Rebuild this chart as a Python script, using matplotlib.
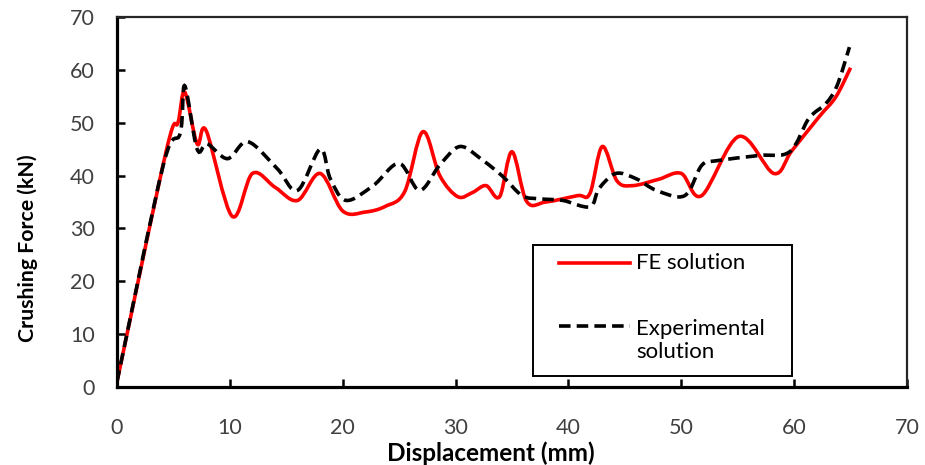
import numpy as np
import matplotlib
matplotlib.use("Agg")
import matplotlib.pyplot as plt
from matplotlib.path import Path
from matplotlib.patches import PathPatch, Rectangle
from matplotlib.lines import Line2D

plt.rcParams['font.family'] = ['Lato', 'DejaVu Sans']

# ---- data ----
fe_x = [0, 4.4, 5.4, 6.0, 7.1, 7.9, 10.2, 12.0, 14.0, 16.0, 18.0, 20.0, 22.0, 23.8,
        25.5, 27.1, 28.6, 30.2, 31.5, 32.7, 33.9, 35.0, 36.3, 38.0, 40.8, 41.9,
        43.0, 44.3, 45.7, 48.0, 50.0, 51.8, 55.1, 58.2, 59.8, 62.2, 63.7, 65.0]
fe_y = [1, 45, 50, 55.8, 46, 48.5, 32.3, 40.4, 37.8, 35.3, 40.4, 33.3, 33.1, 34.2,
        37.0, 48.3, 40.0, 36.0, 36.8, 38.1, 36.0, 44.5, 35.1, 35.0, 36.2, 36.6,
        45.5, 39.0, 38.1, 39.3, 40.4, 36.2, 47.4, 40.4, 44.7, 51.1, 54.9, 60.4]

ex_x = [0, 4.1, 5.6, 6.0, 7.1, 8.0, 9.8, 11.6, 14.2, 16.0, 18.0, 18.9, 20.3, 22.7,
        25.0, 26.8, 28.6, 30.4, 32.4, 34.2, 35.9, 37.5, 39.5, 41.9, 42.7, 44.2,
        46.0, 47.8, 50.3, 51.8, 53.1, 56.9, 59.6, 61.3, 62.8, 63.8, 64.9]
ex_y = [1, 42, 48, 57, 45, 46, 43.2, 46.4, 41.3, 37.2, 45, 39.4, 35.3, 38.1,
        42.3, 37.2, 42.0, 45.5, 42.9, 39.8, 36.2, 35.6, 35.3, 34.1, 37.5, 40.4,
        39.4, 37.2, 36.2, 41.9, 42.8, 43.8, 44.5, 50.8, 53.6, 57.0, 64.3]

x_ticks = [0, 10, 20, 30, 40, 50, 60, 70]
y_ticks = [0, 10, 20, 30, 40, 50, 60, 70]
labels = ["FE solution", "Experimental\nsolution"]


def smooth_path(xs, ys):
    """Excel-like smoothed line: cubic Bezier segments through the points."""
    P = np.column_stack([xs, ys]).astype(float)
    n = len(P)
    verts = [P[0]]
    codes = [Path.MOVETO]
    for i in range(n - 1):
        p0 = P[i - 1] if i > 0 else P[i]
        p1 = P[i]
        p2 = P[i + 1]
        p3 = P[i + 2] if i + 2 < n else P[i + 1]
        c1 = p1 + (p2 - p0) / 6.0
        c2 = p2 - (p3 - p1) / 6.0
        verts += [c1, c2, p2]
        codes += [Path.CURVE4] * 3
    return Path(verts, codes)


fig = plt.figure(figsize=(9.25, 4.65), dpi=100)
ax = fig.add_axes([117 / 925, 1 - 387 / 465, 790 / 925, 370 / 465])

red = "#ff0000"
lw = 2.6
fe_patch = PathPatch(smooth_path(fe_x, fe_y), facecolor="none", edgecolor=red,
                     lw=lw, transform=ax.transData, capstyle="butt", joinstyle="round")
ax.add_patch(fe_patch)
ex_patch = PathPatch(smooth_path(ex_x, ex_y), facecolor="none", edgecolor="black",
                     lw=lw, linestyle=(0, (3.2, 1.7)), transform=ax.transData,
                     capstyle="butt")
ax.add_patch(ex_patch)

ax.set_xlim(0, 70)
ax.set_ylim(0, 70)
ax.set_xticks(x_ticks)
ax.set_yticks(y_ticks)

tick_color = "#404040"
ax.tick_params(axis="both", direction="in", length=6, width=1.8,
               labelsize=15.5, labelcolor=tick_color, color="black")
ax.tick_params(axis="y", pad=16)
ax.tick_params(axis="x", pad=22)

for s in ["left", "bottom"]:
    ax.spines[s].set_linewidth(2.3)
    ax.spines[s].set_color("black")
for s in ["top", "right"]:
    ax.spines[s].set_linewidth(1.6)
    ax.spines[s].set_color("#262626")

ax.set_xlabel("Displacement (mm)", fontsize=17.5, fontweight="bold")
ax.set_ylabel("Crushing Force (kN)", fontsize=15.3, fontweight="bold")
ax.xaxis.set_label_coords(0.473, -0.178)
ax.xaxis.label.set_verticalalignment("center")
ax.yaxis.set_label_coords(-0.113, 0.375)
ax.yaxis.label.set_verticalalignment("center")

# ---- legend box drawn manually ----
ax.add_patch(Rectangle((0.527, 0.030), 0.328, 0.355, transform=ax.transAxes,
                       facecolor="white", edgecolor="black", lw=1.4, zorder=5))
ax.add_line(Line2D([0.560, 0.649], [0.334, 0.334], transform=ax.transAxes,
                   color=red, lw=lw, zorder=6))
ax.add_line(Line2D([0.560, 0.649], [0.164, 0.164], transform=ax.transAxes,
                   color="black", lw=lw, linestyle=(0, (3.2, 1.7)), zorder=6))
ax.text(0.657, 0.334, labels[0], transform=ax.transAxes, fontsize=16,
        va="center", ha="left", color="black", zorder=6)
ax.text(0.657, 0.125, labels[1], transform=ax.transAxes, fontsize=16,
        va="center", ha="left", color="black", zorder=6, linespacing=1.2)

fig.savefig("out.png", dpi=100)
